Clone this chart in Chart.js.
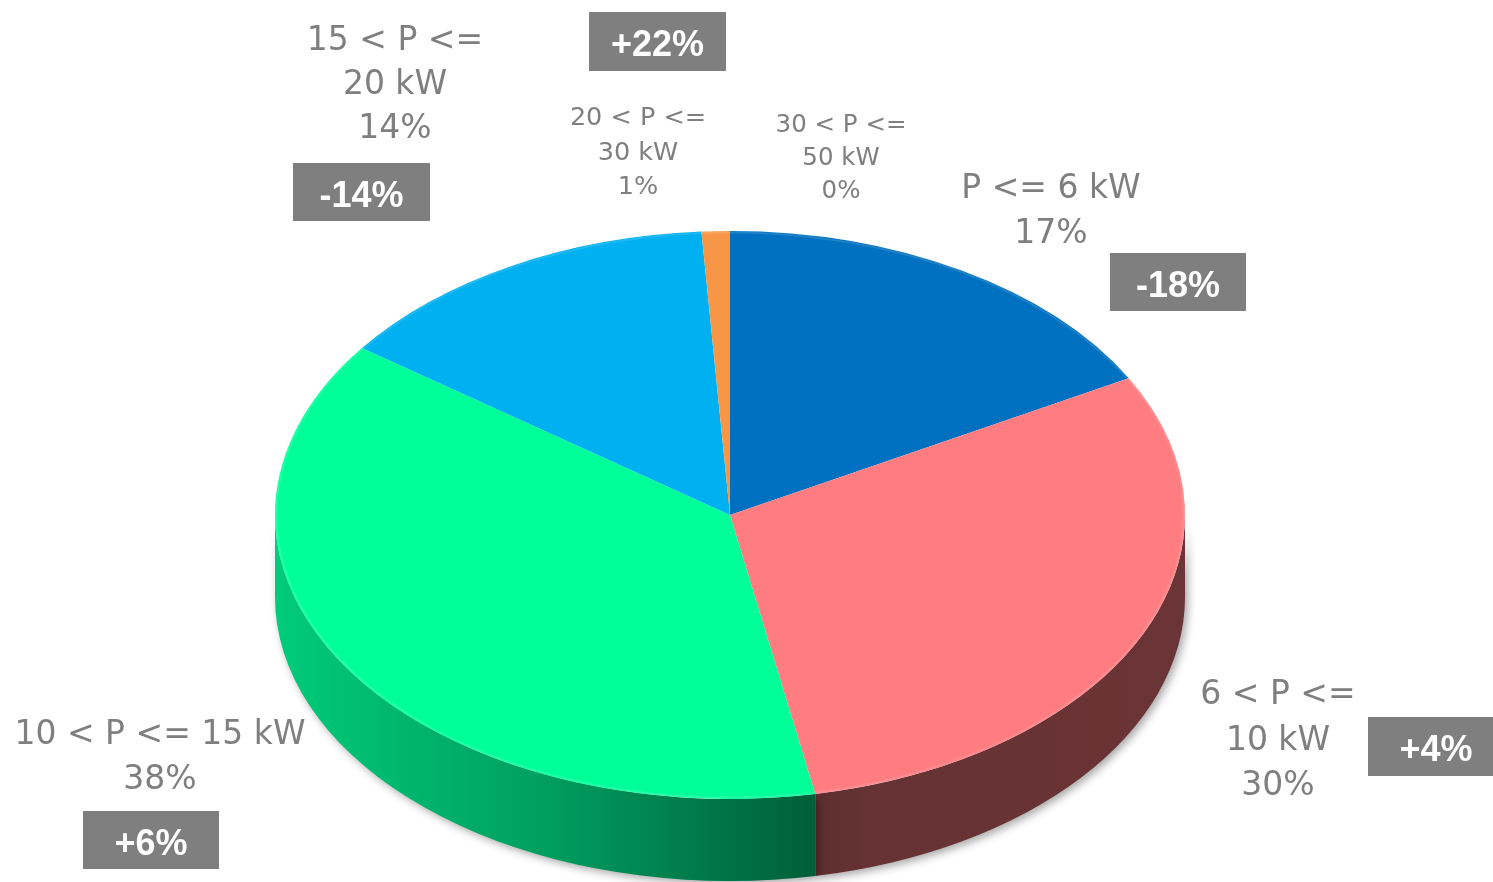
<!DOCTYPE html>
<html>
<head>
<meta charset="utf-8">
<script src="https://cdn.jsdelivr.net/npm/chart.js@4/dist/chart.umd.min.js"></script>
<style>
  html, body { margin: 0; padding: 0; background: #ffffff; }
  canvas { display: block; }
</style>
</head>
<body>
<canvas id="c" width="1493" height="882"></canvas>
<script>
// ---- data ----
const categories = ['P <= 6 kW', '6 < P <= 10 kW', '10 < P <= 15 kW', '15 < P <= 20 kW', '20 < P <= 30 kW', '30 < P <= 50 kW'];
const shares = [17, 30, 38, 14, 1, 0];
const changes = ['-18%', '+4%', '+6%', '-14%', '+22%', null];

// ---- styles ----
const sliceColors = ['#0070C0', '#FF7C80', '#00FF99', '#00B0F0', '#F79646', '#7F7F7F'];
const TEXT_GRAY = '#7F7F7F';
const BOX_GRAY = '#7F7F7F';
const RX = 455, RY = 284, DEPTH = 82;

// label layout: wrap flag, center x, first baseline, line height, font size
const labelLayout = [
  { wrap: false, x: 1051, y: 198, lh: 45, size: 33 },
  { wrap: true,  x: 1278, y: 704, lh: 45.5, size: 33 },
  { wrap: false, x: 160,  y: 744, lh: 45, size: 33 },
  { wrap: true,  x: 395,  y: 50,  lh: 44, size: 33 },
  { wrap: true,  x: 638,  y: 125, lh: 34.5, size: 25.5 },
  { wrap: true,  x: 841,  y: 132, lh: 33, size: 24.5 }
];
// change boxes: x, y, w, h
const boxLayout = [
  { x: 1110, y: 253, w: 136, h: 58 },
  { x: 1368, y: 717, w: 136, h: 59 },
  { x: 83,   y: 811, w: 136, h: 58 },
  { x: 293,  y: 163, w: 137, h: 58 },
  { x: 589,  y: 12,  w: 137, h: 59 },
  null
];

function hexToRgb(h) {
  const n = parseInt(h.slice(1), 16);
  return [(n >> 16) & 255, (n >> 8) & 255, n & 255];
}
function shade(hex, f) {
  const [r, g, b] = hexToRgb(hex);
  return 'rgb(' + Math.round(r * f) + ',' + Math.round(g * f) + ',' + Math.round(b * f) + ')';
}

const pie3d = {
  id: 'pie3d',
  beforeDatasetsDraw(chart) {
    const ctx = chart.ctx;
    const meta = chart.getDatasetMeta(0);
    const arcs = meta.data;
    if (!arcs.length) return;
    const cx = arcs[0].x, cy = arcs[0].y;
    const R = arcs[0].outerRadius;
    chart.$p3 = { cx, cy, sx: RX / R, sy: RY / R };
    // side walls (front half only)
    arcs.forEach((arc, i) => {
      const s = arc.startAngle, e = arc.endAngle;
      if (e - s <= 0) return;
      for (let k = -1; k <= 1; k++) {
        const lo = Math.max(s, k * 2 * Math.PI);
        const hi = Math.min(e, k * 2 * Math.PI + Math.PI);
        if (hi <= lo) continue;
        const grad = ctx.createLinearGradient(cx - RX, 0, cx + RX, 0);
        const col = sliceColors[i];
        grad.addColorStop(0, shade(col, 0.80));
        grad.addColorStop(0.3, shade(col, 0.62));
        grad.addColorStop(0.59, shade(col, 0.37));
        grad.addColorStop(0.65, shade(col, 0.40));
        grad.addColorStop(1, shade(col, 0.42));
        ctx.save();
        ctx.shadowColor = 'rgba(0,0,0,0.35)';
        ctx.shadowBlur = 8;
        ctx.shadowOffsetX = 3;
        ctx.shadowOffsetY = 3;
        ctx.beginPath();
        ctx.ellipse(cx, cy, RX, RY, 0, lo, hi, false);
        ctx.ellipse(cx, cy + DEPTH, RX, RY, 0, hi, lo, true);
        ctx.closePath();
        ctx.fillStyle = grad;
        ctx.fill();
        ctx.restore();
      }
    });
    // transform so the library's circular slices become the tilted top face
    ctx.save();
    ctx.translate(cx, cy);
    ctx.scale(RX / R, RY / R);
    ctx.translate(-cx, -cy);
  },
  afterDatasetsDraw(chart) {
    const ctx = chart.ctx;
    ctx.restore();
    const p = chart.$p3;
    if (!p) return;
    // subtle bevel rim
    ctx.save();
    ctx.beginPath();
    ctx.ellipse(p.cx, p.cy, RX - 1.5, RY - 1.5, 0, 0, Math.PI * 2);
    ctx.strokeStyle = 'rgba(255,255,255,0.12)';
    ctx.lineWidth = 2;
    ctx.stroke();
    ctx.restore();
  },
  afterDraw(chart) {
    const ctx = chart.ctx;
    ctx.save();
    categories.forEach((cat, i) => {
      const L = labelLayout[i];
      let lines;
      if (L.wrap) {
        const idx = cat.indexOf('<=') + 2;
        lines = [cat.slice(0, idx).trim(), cat.slice(idx).trim()];
      } else {
        lines = [cat];
      }
      lines.push(shares[i] + '%');
      ctx.fillStyle = TEXT_GRAY;
      ctx.font = L.size + 'px "DejaVu Sans", Verdana, sans-serif';
      ctx.textAlign = 'center';
      ctx.textBaseline = 'alphabetic';
      lines.forEach((t, j) => ctx.fillText(t, L.x, L.y + j * L.lh));
      const B = boxLayout[i];
      if (B && changes[i]) {
        ctx.fillStyle = BOX_GRAY;
        ctx.fillRect(B.x, B.y, B.w, B.h);
        ctx.fillStyle = '#ffffff';
        ctx.font = 'bold 36px "Liberation Sans", Arial, sans-serif';
        ctx.fillText(changes[i], B.x + B.w / 2, B.y + B.h / 2 + 14.5);
      }
    });
    ctx.restore();
  }
};

new Chart(document.getElementById('c'), {
  type: 'pie',
  data: {
    labels: categories,
    datasets: [{
      data: shares,
      backgroundColor: sliceColors,
      borderWidth: 0,
      clip: false
    }]
  },
  options: {
    responsive: false,
    animation: false,
    events: [],
    layout: { padding: { left: 430, right: 463, top: 215, bottom: 67 } },
    plugins: {
      legend: { display: false },
      tooltip: { enabled: false }
    }
  },
  plugins: [pie3d]
});
</script>
</body>
</html>
